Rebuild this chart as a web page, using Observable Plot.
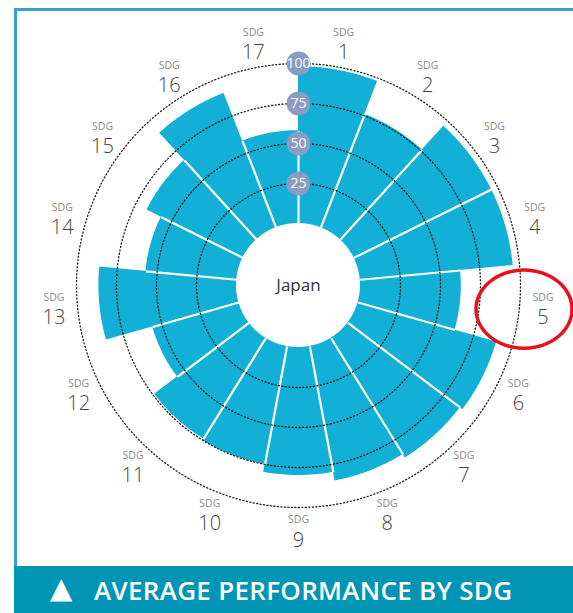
<!DOCTYPE html>
<html>
<head>
<meta charset="utf-8">
<script src="https://cdn.jsdelivr.net/npm/d3@7"></script>
<script src="https://cdn.jsdelivr.net/npm/@observablehq/plot@0.6"></script>
<style>
  body { margin: 0; background: #fff; font-family: "Open Sans", sans-serif; }
  #wrap { position: relative; width: 573px; height: 613px; overflow: hidden; background: #fff; }
  #chart { position: absolute; left: 0; top: 0; }
  #frame { position: absolute; left: 14px; top: 8px; width: 620px; height: 600px;
           border-left: 3px solid #35a4be; border-top: 3px solid #35a4be; pointer-events: none; }
  #banner { position: absolute; left: 14px; top: 566px; width: 600px; height: 47px;
            background: #0094b5; color: #fff; }
  #banner .tri { position: absolute; left: 36px; top: 5px; font-size: 29px; line-height: 34px; font-family: "DejaVu Sans", sans-serif; }
  #banner .txt { position: absolute; left: 80px; top: 7px; font-size: 26px; line-height: 34px; font-weight: 600; letter-spacing: 0.3px; white-space: nowrap; }
</style>
</head>
<body>
<div id="wrap">
  <div id="chart"></div>
  <div id="frame"></div>
  <div id="banner"></div>
</div>
<script>
// ---- data ----
const sdgs = ["1","2","3","4","5","6","7","8","9","10","11","12","13","14","15","16","17"];
const scores = [98, 76, 96, 96, 63, 90, 88, 85.5, 80, 75, 74, 56, 86, 57, 67, 90, 58];
const ringValues = [25, 50, 75, 100];
const ringLabels = ["25", "50", "75", "100"];
const country = "Japan";
const highlight = ["5"];
const footerText = "AVERAGE PERFORMANCE BY SDG";

// ---- geometry helpers (data units; 1 unit = 1 score point) ----
const n = sdgs.length;
const step = 2 * Math.PI / n;
const R0 = 38.75;          // inner hole, in score units
const labelR = 153.5;      // radius of SDG labels
const R = v => R0 + v;
const px = (r, t) => r * Math.sin(t);
const py = (r, t) => r * Math.cos(t);

const N = 40;
const barPts = sdgs.flatMap((s, i) => d3.range(N + 1).map(k => {
  const t = (i + k / N) * step;
  return {sdg: s, ox: px(R(scores[i]), t), oy: py(R(scores[i]), t), ix: px(R0, t), iy: py(R0, t)};
}));

const ringPts = ringValues.flatMap(v => d3.range(0, 361, 0.5).map(a => {
  const t = a * Math.PI / 180;
  return {ring: v, x: px(R(v), t), y: py(R(v), t)};
}));

const seps = sdgs.map((s, i) => {
  const t = i * step;
  const h = R(Math.min(scores[i], scores[(i + n - 1) % n]));
  return {x1: px(R0, t), y1: py(R0, t), x2: px(h, t), y2: py(h, t)};
});

const labels = sdgs.map((s, i) => {
  const t = (i + 0.5) * step;
  return {sdg: s, x: px(labelR, t), y: py(labelR, t)};
});

const ringTable = ringValues.map((v, i) => ({v, label: ringLabels[i]}));

const ellipsePts = labels.filter(d => highlight.includes(d.sdg)).flatMap(d =>
  d3.range(0, 361, 2).map(a => {
    const t = a * Math.PI / 180;
    return {id: d.sdg, x: d.x - 11.9 + 30 * Math.cos(t), y: d.y - 0.6 + 24.4 * Math.sin(t)};
  }));

const W = 573, H = 565, cx = 298, cy = 285, k = 1.6;

const plot = Plot.plot({
  width: W,
  height: H,
  margin: 0,
  style: {fontFamily: "'Open Sans', sans-serif", background: "transparent"},
  x: {type: "linear", domain: [-cx / k, (W - cx) / k], range: [0, W], axis: null},
  y: {type: "linear", domain: [-(H - cy) / k, cy / k], range: [H, 0], axis: null},
  marks: [
    Plot.area(barPts, {x1: "ox", y1: "oy", x2: "ix", y2: "iy", z: "sdg", fill: "#12b0d6", curve: "linear"}),
    Plot.link(seps, {x1: "x1", y1: "y1", x2: "x2", y2: "y2", stroke: "#fff", strokeWidth: 2.2}),
    Plot.line(ringPts, {x: "x", y: "y", z: "ring", stroke: "#1c1c1c", strokeWidth: 1.3, strokeDasharray: "1.1 2.4"}),
    Plot.dot(ringTable, {x: () => 0, y: d => R(d.v), r: 12, fill: "#8b9cc4", stroke: "none"}),
    Plot.text(ringTable, {x: () => 0, y: d => R(d.v), text: "label", fill: "#fff", fontSize: 14, dy: 0.5}),
    Plot.text([country], {x: () => 0, y: () => 0, text: d => d, fontSize: 17, fill: "#333"}),
    Plot.text(labels, {x: "x", y: "y", text: () => "SDG", dy: -11, fontSize: 10.5, fill: "#8a8a8a"}),
    Plot.text(labels, {x: "x", y: "y", text: "sdg", dy: 9, fontSize: 20, fontWeight: 300, fill: "#444"}),
    Plot.line(ellipsePts, {x: "x", y: "y", z: "id", stroke: "#e8101a", strokeWidth: 3.5})
  ]
});
document.getElementById("chart").appendChild(plot);

const banner = document.getElementById("banner");
banner.innerHTML = `<span class="tri">▲</span><span class="txt">${footerText}</span>`;
</script>
</body>
</html>
